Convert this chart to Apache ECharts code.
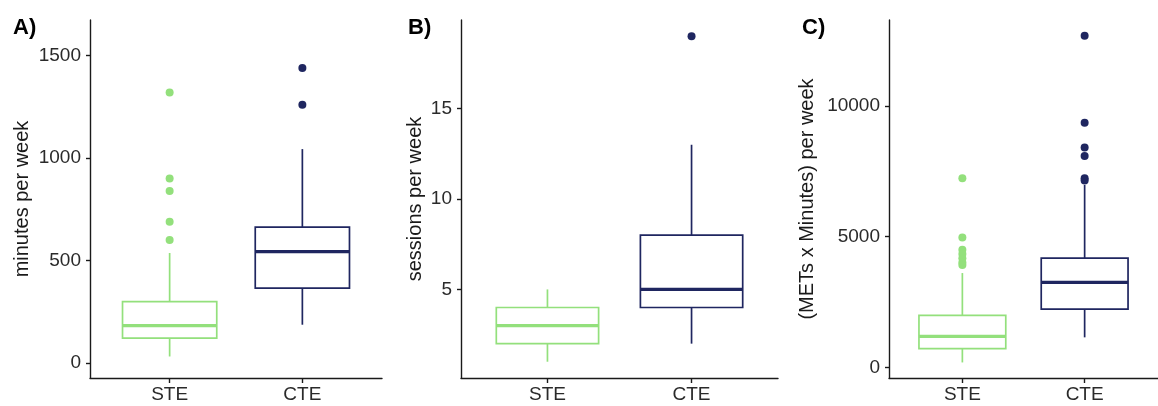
<!DOCTYPE html>
<html>
<head>
<meta charset="utf-8">
<script src="https://cdn.jsdelivr.net/npm/echarts@6/dist/echarts.min.js"></script>
<style>
html,body{margin:0;padding:0;background:#fff;}
#chart{width:1158px;height:406px;}
</style>
</head>
<body>
<div id="chart"></div>
<script>
// ---- data ----
const groups = ['STE', 'CTE'];
// box stats: [lower whisker, Q1, median, Q3, upper whisker]
const minutesBox = [[32, 122, 183, 300, 537], [187, 366, 544, 663, 1044]];
const minutesOut = [[1320, 900, 840, 690, 600], [1440, 1260]];
const sessionsBox = [[1, 2, 3, 4, 5], [2, 4, 5, 8, 13]];
const sessionsOut = [[], [19]];
const metsBox = [[190, 715, 1185, 1988, 3610], [1150, 2230, 3250, 4180, 6980]];
const metsOut = [[7240, 4970, 4500, 4340, 4180, 4010, 3920], [12690, 9360, 8410, 8090, 7240, 7150]];
const ticksMinutes = [0, 500, 1000, 1500];
const ticksSessions = [5, 10, 15];
const ticksMets = [0, 5000, 10000];
const panelLabels = ['A)', 'B)', 'C)'];
const yTitles = ['minutes per week', 'sessions per week', '(METs x Minutes) per week'];

const colors = ['#93e07c', '#1f2660'];
const FONT = 'Liberation Sans, Arial, Helvetica, sans-serif';

const panels = [
  {box: minutesBox, out: minutesOut, ticks: ticksMinutes, min: -73, max: 1674, grid: {left: 90, width: 292}, nameGap: 58},
  {box: sessionsBox, out: sessionsOut, ticks: ticksSessions, min: 0.1, max: 19.9, grid: {left: 461, width: 317}, nameGap: 36},
  {box: metsBox, out: metsOut, ticks: ticksMets, min: -405, max: 13290, grid: {left: 889, width: 283}, nameGap: 72}
];

const grids = [], xAxes = [], yAxes = [], series = [], titles = [];
const titleLeft = [13, 408, 802];

panels.forEach((p, i) => {
  grids.push({left: p.grid.left, width: p.grid.width, top: 20, height: 358});
  xAxes.push({
    gridIndex: i, type: 'value', min: 0.4, max: 2.6,
    axisLine: {show: true, onZero: false, lineStyle: {color: '#1a1a1a', width: 1.4}},
    axisTick: {show: true, customValues: [1, 2], length: 5, lineStyle: {color: '#1a1a1a', width: 1.4}},
    axisLabel: {customValues: [1, 2], formatter: v => groups[Math.round(v) - 1] || '', fontSize: 19, color: '#2a2a2a', fontFamily: FONT, margin: 7},
    splitLine: {show: false}
  });
  yAxes.push({
    gridIndex: i, type: 'value', min: p.min, max: p.max,
    axisLine: {show: true, onZero: false, lineStyle: {color: '#1a1a1a', width: 1.4}},
    axisTick: {show: true, customValues: p.ticks, length: 4, lineStyle: {color: '#1a1a1a', width: 1.4}},
    axisLabel: {customValues: p.ticks, formatter: v => String(v), fontSize: 19, color: '#2a2a2a', fontFamily: FONT, margin: 9},
    splitLine: {show: false},
    name: yTitles[i], nameLocation: 'middle', nameGap: p.nameGap,
    nameTextStyle: {fontSize: 20, color: '#1a1a1a', fontFamily: FONT}
  });
  titles.push({text: panelLabels[i], left: titleLeft[i], top: 17, padding: 0, textStyle: {fontSize: 22, fontWeight: 'bold', color: '#000', fontFamily: FONT}});

  const boxData = p.box.map((b, k) => ({value: [k + 1].concat(b)}));
  series.push({
    type: 'custom', xAxisIndex: i, yAxisIndex: i,
    encode: {x: 0, y: [1, 2, 3, 4, 5]},
    data: boxData,
    renderItem: function (params, api) {
      const x = api.value(0);
      const c = colors[x - 1];
      const w = api.size([1, 0])[0] * 0.71;
      const pLow = api.coord([x, api.value(1)]);
      const pQ1 = api.coord([x, api.value(2)]);
      const pMed = api.coord([x, api.value(3)]);
      const pQ3 = api.coord([x, api.value(4)]);
      const pHigh = api.coord([x, api.value(5)]);
      const cx = pQ1[0];
      const ls = {stroke: c, lineWidth: 1.7, fill: null};
      return {
        type: 'group',
        children: [
          {type: 'line', shape: {x1: cx, y1: pLow[1], x2: cx, y2: pQ1[1]}, style: ls},
          {type: 'line', shape: {x1: cx, y1: pQ3[1], x2: cx, y2: pHigh[1]}, style: ls},
          {type: 'rect', shape: {x: cx - w / 2, y: pQ3[1], width: w, height: pQ1[1] - pQ3[1]}, style: {stroke: c, lineWidth: 1.7, fill: '#fff'}},
          {type: 'line', shape: {x1: cx - w / 2, y1: pMed[1], x2: cx + w / 2, y2: pMed[1]}, style: {stroke: c, lineWidth: 3.2}}
        ]
      };
    },
    z: 2
  });
  const outData = [];
  p.out.forEach((arr, k) => arr.forEach(v => outData.push({value: [k + 1, v], itemStyle: {color: colors[k]}})));
  series.push({
    type: 'scatter', xAxisIndex: i, yAxisIndex: i,
    data: outData, symbol: 'circle', symbolSize: 8, z: 3,
    itemStyle: {opacity: 1}
  });
});

const chart = echarts.init(document.getElementById('chart'), null, {renderer: 'canvas'});
chart.setOption({
  backgroundColor: '#fff',
  animation: false,
  title: titles,
  grid: grids,
  xAxis: xAxes,
  yAxis: yAxes,
  series: series
});
</script>
</body>
</html>
